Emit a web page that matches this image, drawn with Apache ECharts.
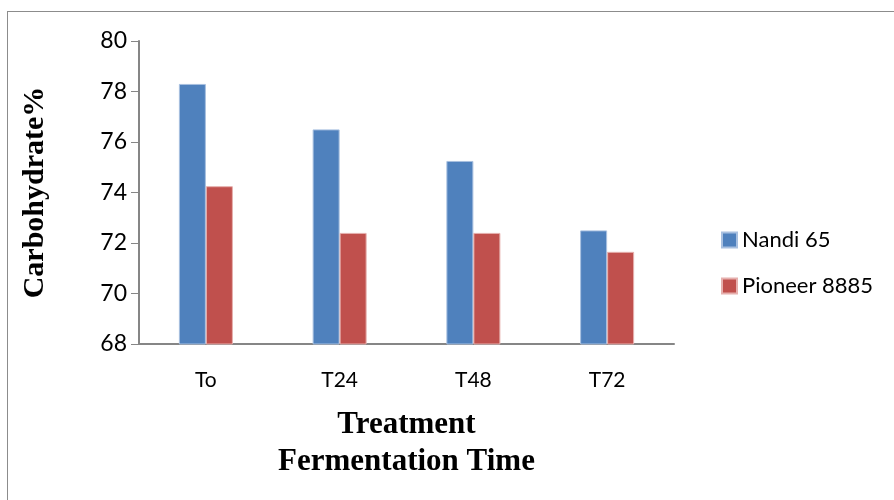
<!DOCTYPE html>
<html>
<head>
<meta charset="UTF-8">
<title>Carbohydrate</title>
<script src="https://cdn.jsdelivr.net/npm/echarts@6/dist/echarts.min.js"></script>
<style>
  html, body { margin: 0; padding: 0; background: #fff; }
  #frame { position: absolute; left: 7px; top: 11px; width: 900px; height: 500px; border: 1px solid #8c8c8c; box-sizing: border-box; }
  #main { position: absolute; left: 0; top: 0; width: 894px; height: 500px; }
</style>
</head>
<body>
<div id="frame"></div>
<div id="main"></div>
<script type="text/javascript">
    // data
    var categories = ['To', 'T24', 'T48', 'T72'];
    var nandi65 = [78.3, 76.5, 75.25, 72.5];
    var pioneer8885 = [74.25, 72.4, 72.4, 71.65];
    var yTicks = [68, 70, 72, 74, 76, 78, 80];

    var myChart = echarts.init(document.getElementById('main'));

    var labelFont = 'Lato, "Open Sans", sans-serif';
    var titleFont = '"Liberation Serif", "DejaVu Serif", serif';

    var option = {
        animation: false,
        grid: {
            left: 139,
            right: 220,
            top: 41,
            bottom: 156
        },
        legend: {
            orient: 'vertical',
            left: 716,
            top: 224,
            itemWidth: 15,
            itemHeight: 15,
            itemGap: 24,
            icon: 'rect',
            textStyle: { fontFamily: labelFont, fontSize: 22, color: '#000' },
            data: ['Nandi 65', 'Pioneer 8885']
        },
        xAxis: {
            type: 'category',
            data: categories,
            name: 'Treatment\nFermentation Time',
            nameLocation: 'middle',
            nameGap: 62,
            nameTextStyle: { fontFamily: titleFont, fontSize: 31, fontWeight: 'bold', color: '#000', lineHeight: 37 },
            axisLine: { lineStyle: { color: '#868686', width: 2 } },
            axisTick: { show: false },
            axisLabel: { fontFamily: labelFont, fontSize: 21, color: '#000', margin: 26 }
        },
        yAxis: {
            type: 'value',
            min: yTicks[0],
            max: yTicks[yTicks.length - 1],
            interval: 2,
            name: 'Carbohydrate%',
            nameLocation: 'middle',
            nameGap: 89,
            nameTextStyle: { fontFamily: titleFont, fontSize: 30, fontWeight: 'bold', color: '#000' },
            axisLine: { show: true, lineStyle: { color: '#868686', width: 2 } },
            axisTick: { show: true, length: 8, lineStyle: { color: '#868686', width: 1 } },
            splitLine: { show: false },
            axisLabel: { fontFamily: labelFont, fontSize: 23, color: '#000', margin: 12 }
        },
        series: [
            {
                name: 'Nandi 65',
                type: 'bar',
                data: nandi65,
                barWidth: 27,
                barGap: '0%',
                itemStyle: { color: '#4F81BD', borderColor: '#a8c0e0', borderWidth: 1 }
            },
            {
                name: 'Pioneer 8885',
                type: 'bar',
                data: pioneer8885,
                barWidth: 27,
                barGap: '0%',
                itemStyle: { color: '#C0504D', borderColor: '#e6b0ae', borderWidth: 1 }
            }
        ]
    };

    myChart.setOption(option);
</script>
</body>
</html>
